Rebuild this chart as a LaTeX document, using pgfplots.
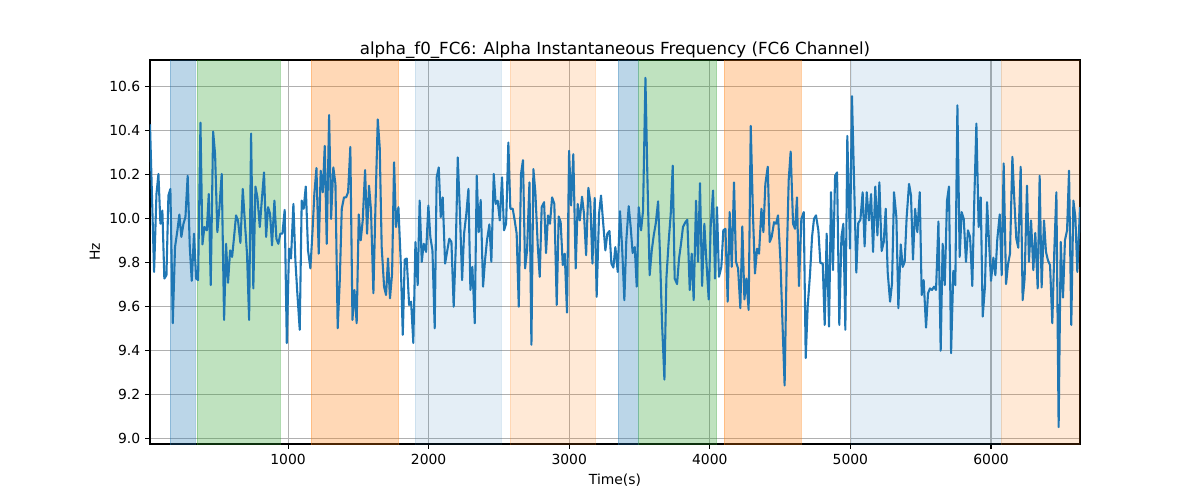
\documentclass[border=0pt]{standalone}
\usepackage{pgfplots}
\pgfplotsset{compat=1.18}
\usepackage{fontspec}
\setmainfont{DejaVu Sans}
\definecolor{tabblue}{HTML}{1F77B4}
\definecolor{tabgreen}{HTML}{2CA02C}
\definecolor{taborange}{HTML}{FF7F0E}
\definecolor{gridgray}{HTML}{B0B0B0}
\begin{document}
\begin{tikzpicture}
\begin{axis}[
  scale only axis, width=669.6pt, height=276.5pt,
  xmin=18, xmax=6633, ymin=8.975, ymax=10.72,
  xtick={1000,2000,3000,4000,5000,6000},
  ytick={9.0,9.2,9.4,9.6,9.8,10.0,10.2,10.4,10.6},
  yticklabels={9.0,9.2,9.4,9.6,9.8,10.0,10.2,10.4,10.6},
  xticklabel style={/pgf/number format/set thousands separator={}},
  /pgf/number format/assume math mode=true,
  tick align=outside, tick pos=left,
  major tick length=3.5pt,
  every tick/.style={black, line width=0.8pt},
  axis line style={black, line width=0.8pt},
  grid=major,
  major grid style={gridgray, line width=0.8pt},
  tick label style={font=\fontsize{10}{12}\selectfont},
  label style={font=\fontsize{10}{12}\selectfont},
  xlabel={Time(s)}, ylabel={Hz},
  title={alpha\_f0\_FC6: Alpha Instantaneous Frequency (FC6 Channel)},
  title style={font=\fontsize{12}{14}\selectfont, at={(0.5,1)}, anchor=south, yshift=-8.5pt},
]
% shaded spans
\addplot[fill=tabblue, fill opacity=0.3, draw=tabblue, draw opacity=0.3] coordinates {(161,8.9) (161,10.8) (341,10.8) (341,8.9) (161,8.9)};
\addplot[fill=tabgreen, fill opacity=0.3, draw=tabgreen, draw opacity=0.3] coordinates {(351,8.9) (351,10.8) (946,10.8) (946,8.9) (351,8.9)};
\addplot[fill=taborange, fill opacity=0.3, draw=taborange, draw opacity=0.3] coordinates {(1164,8.9) (1164,10.8) (1786,10.8) (1786,8.9) (1164,8.9)};
\addplot[fill=tabblue, fill opacity=0.12, draw=tabblue, draw opacity=0.12] coordinates {(1903,8.9) (1903,10.8) (2518,10.8) (2518,8.9) (1903,8.9)};
\addplot[fill=taborange, fill opacity=0.17, draw=taborange, draw opacity=0.17] coordinates {(2579,8.9) (2579,10.8) (3187,10.8) (3187,8.9) (2579,8.9)};
\addplot[fill=tabblue, fill opacity=0.3, draw=tabblue, draw opacity=0.3] coordinates {(3347,8.9) (3347,10.8) (3492,10.8) (3492,8.9) (3347,8.9)};
\addplot[fill=tabgreen, fill opacity=0.3, draw=tabgreen, draw opacity=0.3] coordinates {(3494,8.9) (3494,10.8) (4048,10.8) (4048,8.9) (3494,8.9)};
\addplot[fill=taborange, fill opacity=0.3, draw=taborange, draw opacity=0.3] coordinates {(4101,8.9) (4101,10.8) (4652,10.8) (4652,8.9) (4101,8.9)};
\addplot[fill=tabblue, fill opacity=0.12, draw=tabblue, draw opacity=0.12] coordinates {(5006,8.9) (5006,10.8) (6070,10.8) (6070,8.9) (5006,8.9)};
\addplot[fill=taborange, fill opacity=0.17, draw=taborange, draw opacity=0.17] coordinates {(6074,8.9) (6074,10.8) (6700,10.8) (6700,8.9) (6074,8.9)};
% signal
\addplot[tabblue, line width=1.5pt, line join=round] coordinates {
(18,10.428) (47,9.757) (64,10.111) (78,10.202) (92,9.976) (106,10.036) (120,9.727) (135,9.742) (149,10.104) (163,10.134)
(180,9.524) (196,9.870) (213,9.946) (227,10.018) (241,9.916) (256,9.976) (270,10.006) (286,10.194) (301,9.870) (315,9.717)
(331,9.931) (346,9.727) (360,9.720) (377,10.435) (391,9.882) (405,9.961) (422,9.946) (436,10.111) (450,9.697) (467,10.395)
(481,10.292) (497,9.938) (512,10.051) (528,10.202) (545,9.539) (559,9.885) (573,9.708) (588,9.855) (602,9.825) (616,9.916)
(630,10.014) (644,9.991) (661,9.889) (678,10.134) (692,9.991) (708,9.840) (723,9.539) (737,10.386) (753,9.682) (768,10.145)
(782,10.096) (799,9.961) (813,10.081) (829,10.209) (844,9.916) (858,10.051)
(872,10.021) (886,9.878) (903,10.081) (917,9.908) (931,9.885) (945,9.931) (960,9.931) (976,10.039) (991,9.434) (1007,9.863)
(1021,9.818) (1038,10.066) (1052,9.810) (1066,9.660) (1083,9.494) (1097,10.081) (1111,10.044) (1126,10.145) (1142,9.855) (1159,9.773)
(1173,9.931) (1187,10.111) (1202,10.229) (1218,9.840) (1232,10.217) (1247,10.119) (1261,10.330) (1275,9.885) (1292,10.470) (1306,9.998)
(1322,10.232) (1337,10.157) (1353,9.501) (1368,9.720) (1382,10.044) (1398,10.096) (1413,10.096) (1427,10.119) (1443,10.325) (1458,9.539)
(1472,9.675) (1488,9.524) (1503,10.018) (1517,9.901) (1531,9.991) (1548,10.220) (1562,9.931) (1576,10.149) (1590,10.036) (1607,9.660)
(1621,10.036) (1638,10.450) (1652,10.322) (1666,9.870) (1683,9.690)
(1697,9.652) (1711,9.818) (1725,9.637) (1740,9.750) (1754,10.255) (1768,9.961) (1785,10.051) (1801,9.810) (1816,9.471) (1830,9.813)
(1844,9.818) (1861,9.607) (1875,9.622) (1891,9.434) (1906,9.893) (1922,9.697) (1936,10.081) (1951,9.803) (1965,9.885) (1982,9.848)
(1998,10.059) (2012,9.916) (2027,9.855) (2043,9.501) (2057,10.187) (2072,10.232) (2086,10.006) (2100,10.096) (2117,9.795) (2131,9.848)
(2147,9.908) (2162,9.893) (2178,9.599) (2193,9.870) (2207,10.277) (2221,10.051) (2238,9.720) (2252,9.931) (2268,10.021) (2283,10.134)
(2297,9.675) (2311,9.780) (2328,9.524) (2342,10.194) (2356,9.938) (2370,10.084) (2387,9.690) (2401,9.810) (2415,9.901) (2432,9.973)
(2446,9.803) (2463,10.202) (2477,10.066) (2491,10.081) (2506,9.991)
(2522,10.187) (2536,9.946) (2551,9.976) (2567,10.345) (2581,10.044) (2598,10.044) (2612,9.991) (2626,9.931) (2641,9.599) (2657,10.202)
(2671,10.265) (2686,9.773) (2700,9.855) (2717,10.164) (2731,9.426) (2745,10.224) (2759,10.119) (2776,9.878) (2790,9.735) (2804,10.051)
(2821,10.074) (2835,9.843) (2849,10.014) (2863,9.976) (2878,10.096) (2894,10.066) (2911,9.607) (2925,10.009) (2939,9.983) (2954,9.788)
(2968,9.840) (2984,9.572) (2999,10.307) (3013,10.059) (3029,10.292) (3046,9.773) (3060,10.066) (3075,9.991) (3091,10.099) (3105,10.021)
(3120,9.833) (3136,10.139) (3150,10.074) (3165,9.795) (3181,10.093) (3195,9.644) (3212,10.021) (3226,10.104) (3240,9.991) (3257,9.855)
(3271,9.931) (3286,9.943) (3300,9.795) (3314,9.777) (3328,9.870)
(3345,9.757) (3361,10.033) (3376,9.870) (3392,9.629) (3406,9.901) (3423,10.056) (3437,9.961) (3451,9.843) (3466,9.870) (3480,9.690)
(3494,10.051) (3511,9.946) (3525,10.036) (3542,10.639) (3556,10.187) (3572,9.742) (3587,9.855) (3601,9.923) (3615,9.976) (3632,10.078)
(3646,9.825) (3660,9.524) (3677,9.268) (3691,9.727) (3707,9.893) (3722,10.021) (3736,10.240) (3750,9.727) (3767,9.702) (3781,9.818)
(3795,9.885) (3809,9.961) (3826,9.983) (3840,9.994) (3857,9.675) (3871,9.840) (3885,9.629) (3902,10.081) (3916,9.803) (3930,10.160)
(3945,9.693) (3961,9.976) (3975,9.810) (3992,9.632) (4006,9.961) (4023,10.127) (4037,9.727) (4051,10.051) (4065,9.735) (4082,9.780)
(4096,9.946) (4111,9.953) (4127,9.622) (4141,10.029) (4156,9.780)
(4172,10.164) (4186,9.803) (4201,9.773) (4217,9.592) (4231,9.964) (4246,9.632) (4260,9.727) (4276,9.584) (4291,10.420) (4307,10.014)
(4321,9.750) (4336,9.863) (4350,9.840) (4367,10.044) (4381,9.938) (4395,10.157) (4412,10.235) (4426,9.893) (4440,9.916) (4457,9.983)
(4471,9.976) (4485,10.014) (4502,9.810) (4516,9.539) (4532,9.241) (4547,9.810) (4561,10.175) (4575,10.304) (4592,9.976) (4606,9.953)
(4620,10.096) (4634,9.693) (4651,9.998) (4668,10.029) (4682,9.366) (4696,9.599) (4713,9.750) (4727,9.916) (4741,9.998) (4755,10.014)
(4772,9.946) (4786,9.798) (4803,9.795) (4817,9.516) (4831,9.931) (4848,9.509) (4862,10.119) (4876,9.765) (4891,10.194) (4905,10.209)
(4921,9.516) (4936,9.916) (4950,9.976) (4964,9.494) (4978,10.375)
(4997,9.863) (5011,10.556) (5028,10.119) (5042,9.754) (5056,9.979) (5071,9.994) (5087,10.119) (5101,9.873) (5116,10.119) (5132,9.991)
(5147,10.111) (5161,9.848) (5177,10.145) (5192,9.923) (5206,10.164) (5222,9.852) (5237,9.893) (5251,10.044) (5265,9.757) (5282,9.622)
(5296,9.705) (5310,10.119) (5327,10.006) (5341,9.592) (5358,9.882) (5372,9.780) (5386,9.803) (5400,10.006) (5417,10.157) (5431,10.104)
(5445,9.813) (5460,10.044) (5476,9.938) (5493,10.119) (5507,9.652) (5521,9.720) (5538,9.504) (5552,9.660) (5566,9.682) (5580,9.675)
(5595,9.690) (5609,9.675) (5626,9.986) (5642,9.399) (5656,9.885) (5671,9.697) (5687,10.081) (5701,10.145) (5716,9.388) (5732,9.762)
(5746,9.697) (5761,10.514) (5777,9.825) (5791,10.029) (5806,9.998)
(5822,9.803) (5836,9.946) (5851,9.916) (5867,9.693) (5881,10.081) (5896,10.431) (5912,9.961) (5927,10.096) (5941,9.554) (5957,9.690)
(5972,10.074) (5986,9.893) (6000,9.717) (6017,9.822) (6031,9.742) (6045,9.908) (6062,10.018) (6076,9.742) (6090,10.250) (6107,9.702)
(6121,9.792) (6135,9.840) (6152,10.280) (6166,10.081) (6180,9.908) (6194,9.867) (6211,10.235) (6225,9.629) (6239,9.727) (6256,10.149)
(6270,9.803) (6285,9.991) (6301,9.765) (6315,9.934) (6332,9.682) (6346,10.194) (6360,9.687) (6377,9.991) (6391,9.848) (6405,9.810)
(6420,9.788) (6436,9.524) (6450,9.848) (6465,10.119) (6481,9.052) (6496,9.893) (6512,9.641) (6526,9.901) (6541,9.946) (6555,10.217)
(6571,9.516) (6586,10.081) (6600,10.006) (6614,9.757) (6633,10.051)
};
\end{axis}
\path ([xshift=-108pt,yshift=-40.32pt]current axis.south west) rectangle ([xshift=86.4pt,yshift=43.2pt]current axis.north east);
\end{tikzpicture}
\end{document}
